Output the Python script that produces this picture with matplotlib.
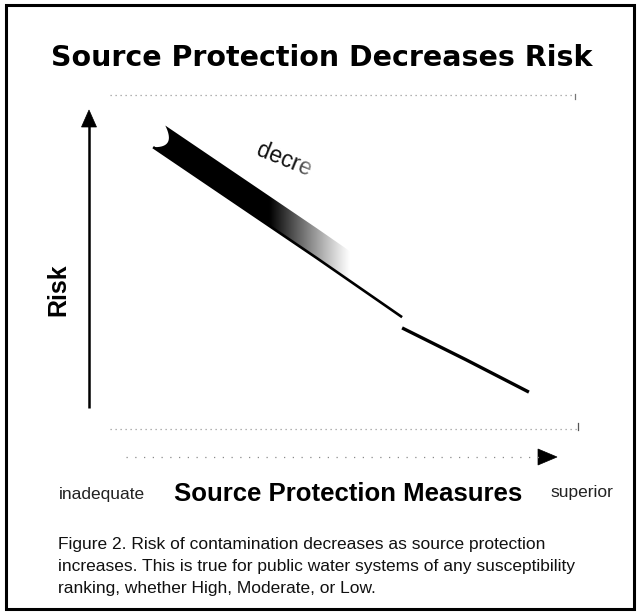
import numpy as np
import matplotlib
matplotlib.use("Agg")
import matplotlib.pyplot as plt
from matplotlib.patches import Polygon, Rectangle

W, H, DPI = 638, 614, 100

# ---------------- data ----------------
title = "Source Protection Decreases Risk"
x_label = "Source Protection Measures"
y_label = "Risk"
x_low_label = "inadequate"
x_high_label = "superior"
band_label = "decre"
caption_lines = [
    "Figure 2. Risk of contamination decreases as source protection",
    "increases. This is true for public water systems of any susceptibility",
    "ranking, whether High, Moderate, or Low.",
]
# risk curve (protection 0..10, risk 0..10), two segments with a small step
protection_upper = [1.37, 4.87, 6.69]
risk_upper = [8.93, 5.73, 4.03]
protection_lower = [6.69, 8.06, 9.40]
risk_lower = [3.72, 2.80, 1.87]
# shaded band above the upper segment
band_start = 1.37
band_solid_end = 3.87
band_fade_end = 5.6
band_height = 0.86

# ---------------- figure ----------------
fig = plt.figure(figsize=(W / DPI, H / DPI), dpi=DPI)
fig.patch.set_facecolor("white")
bg = fig.add_axes([0, 0, 1, 1])
bg.set_xlim(0, W)
bg.set_ylim(H, 0)
bg.axis("off")

# outer frame
bg.add_patch(Rectangle((6, 5), 628, 604, fill=False, ec="black", lw=2.2))

# title
bg.text(322, 58, title, ha="center", va="center", fontsize=20.5,
        fontweight="heavy", family="DejaVu Sans", color="black")

# faint dotted plot frame
dot = dict(color="#9a9a9a", lw=0.9, ls=(0, (1, 3)))
bg.plot([110, 575], [95, 95], **dot)
bg.plot([110, 578], [429, 429], **dot)
bg.plot([578, 578], [423, 430], color="#555", lw=0.9)
bg.plot([575, 575], [94, 99], color="#777", lw=0.9)

# y axis arrow
bg.plot([89, 89], [408, 124], color="black", lw=1.8, solid_capstyle="butt")
bg.add_patch(Polygon([[89, 110], [81.5, 127], [96.5, 127]], closed=True,
                     fc="black", ec="black", lw=0.5))
# x axis arrow (dotted shaft)
bg.plot([126, 540], [457, 457], color="#8a8a8a", lw=0.9, ls=(0, (1, 6)))
bg.add_patch(Polygon([[557, 457], [538, 449], [538, 465]], closed=True,
                     fc="black", ec="black", lw=0.5))

# axis labels
bg.text(58, 290, y_label, rotation=90, ha="center", va="center",
        fontsize=18, fontweight="bold", family="Liberation Sans")
bg.text(348, 494, x_label, ha="center", va="center",
        fontsize=18.5, fontweight="bold", family="Liberation Sans")
bg.text(102, 494, x_low_label, ha="center", va="center",
        fontsize=12.5, family="Liberation Sans", color="#222")
bg.text(582, 493, x_high_label, ha="center", va="center",
        fontsize=12.5, family="Liberation Sans", color="#222")

# caption
for i, line in enumerate(caption_lines):
    bg.text(58, 545 + 21.5 * i, line, ha="left", va="center",
            fontsize=12.5, family="Liberation Sans", color="#111")

# ---------------- data axes ----------------
AX_L, AX_R, AX_T, AX_B = 89, 557, 110, 457
ax = fig.add_axes([AX_L / W, 1 - AX_B / H, (AX_R - AX_L) / W, (AX_B - AX_T) / H])
ax.axis("off")


def px_to_data(px, py):
    return ((px - AX_L) / (AX_R - AX_L) * 10.0,
            (AX_B - py) / (AX_B - AX_T) * 10.0)


def curve(x):
    return np.interp(x, protection_upper, risk_upper)


# band outline: notched tail, bottom along the curve, top parallel
xs = np.linspace(band_start, band_fade_end + 0.3, 80)
bottom = np.column_stack([xs, curve(xs)])
top = np.column_stack([xs[::-1], curve(xs[::-1]) + band_height])
T = np.array([band_start + 0.26, curve(band_start + 0.26) + band_height])
B = np.array([band_start, curve(band_start)])
d = np.array([0.738, -0.675])
C = (T + B) / 2 + 0.5 * d
t = np.linspace(0, 1, 20)[:, None]
notch = (1 - t) ** 2 * T + 2 * t * (1 - t) * C + t ** 2 * B
top = top[top[:, 0] > T[0]]
outline = np.vstack([notch, bottom, top])
band_patch = Polygon(outline, closed=True, fc="none", ec="none",
                     transform=ax.transData)
ax.add_patch(band_patch)

gx = np.linspace(band_start - 0.1, band_fade_end + 0.3, 400)
alpha = np.clip((band_fade_end - gx) / (band_fade_end - band_solid_end), 0, 1)
alpha = alpha ** 1.1
img = np.zeros((2, gx.size, 4))
img[..., 3] = alpha[None, :]
im = ax.imshow(img, extent=(gx[0], gx[-1], 3.0, 10.0), aspect="auto",
               interpolation="bilinear", origin="lower", zorder=2)
im.set_clip_path(band_patch)

# risk curve
ax.plot(protection_upper, risk_upper, color="black", lw=1.9,
        solid_capstyle="butt", zorder=3)
ax.plot(protection_lower, risk_lower, color="black", lw=2.4,
        solid_capstyle="butt", zorder=3)

# label on the band, fading out
lx, ly = px_to_data(284, 160)
ax.text(lx, ly, band_label, rotation=-22, ha="center", va="center",
        fontsize=16.5, family="Liberation Sans", color="#111", zorder=3,
        rotation_mode="anchor")

# white fade over the end of the label
fx = np.linspace(0, 1, 200)
fade = np.ones((2, fx.size, 4))
fade[..., 3] = np.clip((fx - 0.2) / 0.8, 0, 1)[None, :] ** 0.8 * 0.96
x0, y0 = px_to_data(288, 192)
x1, y1 = px_to_data(326, 132)
ax.imshow(fade, extent=(x0, x1, y0, y1), aspect="auto", zorder=5,
          interpolation="bilinear", origin="lower")
ax.set_xlim(0, 10)
ax.set_ylim(0, 10)

fig.savefig("out.png", dpi=DPI, facecolor="white")
